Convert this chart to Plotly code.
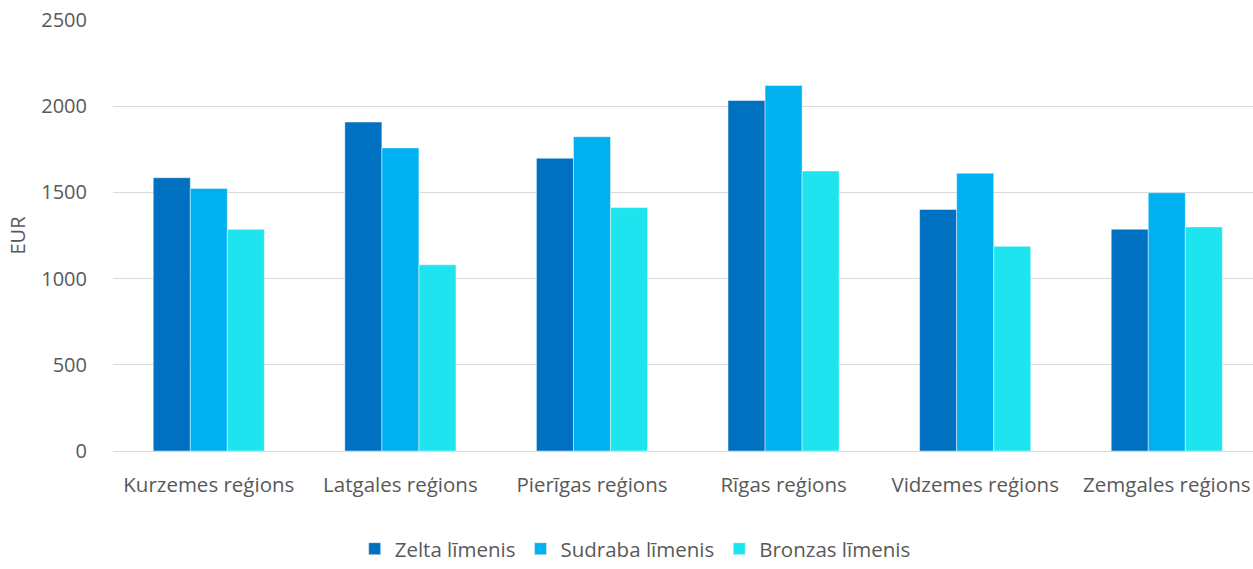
import plotly.graph_objects as go

categories = ["Kurzemes reģions", "Latgales reģions", "Pierīgas reģions",
              "Rīgas reģions", "Vidzemes reģions", "Zemgales reģions"]
series_names = ["Zelta līmenis", "Sudraba līmenis", "Bronzas līmenis"]
zelta = [1585, 1908, 1698, 2033, 1401, 1286]
sudraba = [1523, 1758, 1823, 2120, 1611, 1498]
bronzas = [1286, 1080, 1412, 1624, 1187, 1300]
colors = ["#0070C0", "#00B0F0", "#1DE4EF"]
y_ticks = [0, 500, 1000, 1500, 2000, 2500]

FONT = "Open Sans"
TXT = "#595959"
FS = 20

fig = go.Figure()
for name, vals, col in zip(series_names, [zelta, sudraba, bronzas], colors):
    fig.add_trace(go.Bar(
        x=categories, y=vals, name=name,
        marker=dict(color=col, line=dict(color="rgba(255,255,255,0.45)", width=1)),
    ))

fig.update_layout(
    width=1253, height=569,
    margin=dict(l=113, r=0, t=20, b=118, autoexpand=False),
    paper_bgcolor="white", plot_bgcolor="white",
    barmode="group", bargap=0.42, bargroupgap=0,
    font=dict(family=FONT, size=FS, color=TXT),
    showlegend=True,
    legend=dict(orientation="h", x=0.212, xanchor="left", y=-0.2735, yanchor="bottom",
                font=dict(family=FONT, size=20.5, color=TXT),
                itemwidth=30, traceorder="normal"),
    xaxis=dict(range=[-0.5, 5.45], showgrid=False, showline=False, ticks="",
               automargin=False, ticklabelstandoff=19,
               tickfont=dict(family=FONT, size=20.5, color=TXT)),
    yaxis=dict(range=[0, 2500], tickvals=y_ticks, showgrid=True, gridcolor="#D9D9D9",
               gridwidth=1.3, zeroline=True, zerolinecolor="#D9D9D9", zerolinewidth=1.3,
               showline=False, ticks="", ticklabelstandoff=25, automargin=False,
               tickfont=dict(family=FONT, size=FS, color=TXT),
               title=dict(text="EUR", standoff=10, font=dict(family=FONT, size=FS, color=TXT))),
)

fig.write_html("out.html", config={"displayModeBar": False},
               post_script="document.body.style.margin='0';")
